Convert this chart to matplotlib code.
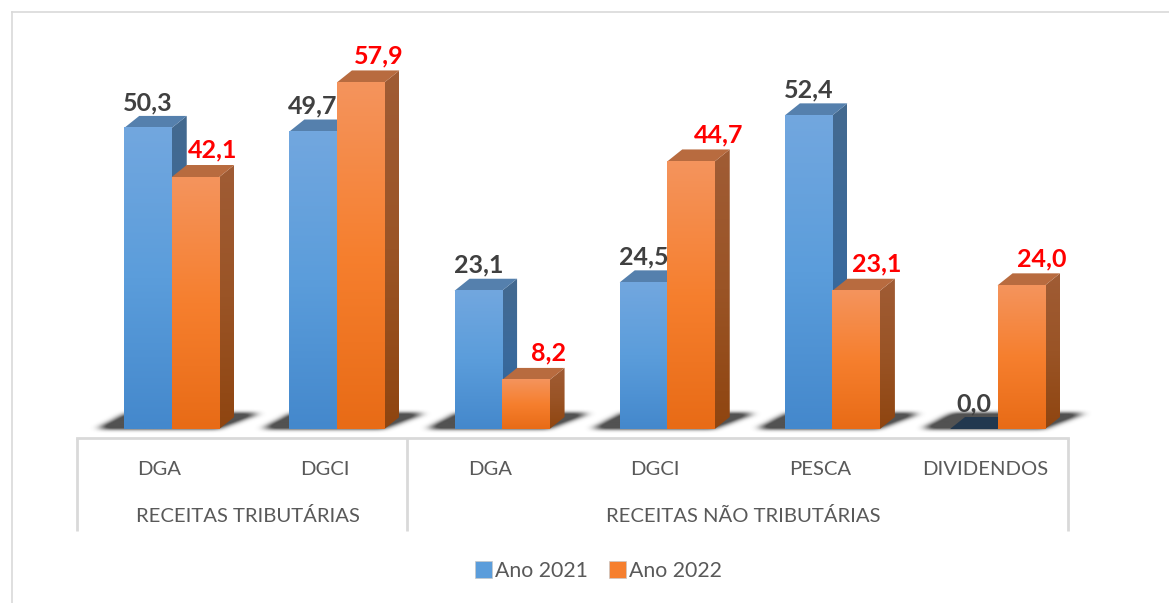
import numpy as np
import matplotlib
matplotlib.use('Agg')
import matplotlib.pyplot as plt
from matplotlib.colors import LinearSegmentedColormap
from matplotlib.lines import Line2D
from matplotlib.patches import Patch, Polygon

categories = ['DGA', 'DGCI', 'DGA', 'DGCI', 'PESCA', 'DIVIDENDOS']
groups = ['RECEITAS TRIBUTÁRIAS', 'RECEITAS NÃO TRIBUTÁRIAS']
group_spans = [(0, 2), (2, 6)]
ano_2021 = [50.3, 49.7, 23.1, 24.5, 52.4, 0.0]
ano_2022 = [42.1, 57.9, 8.2, 44.7, 23.1, 24.0]
labels_2021 = ['50,3', '49,7', '23,1', '24,5', '52,4', '0,0']
labels_2022 = ['42,1', '57,9', '8,2', '44,7', '23,1', '24,0']

W, H = 1169, 603
plt.rcParams['font.family'] = ['Lato', 'DejaVu Sans']

fig = plt.figure(figsize=(W / 100, H / 100), dpi=100)
ax = fig.add_axes([77 / W, (H - 437.5) / H, 991 / W, 407.5 / H])
ax.set_xlim(0, 6)
ax.set_ylim(-1.42, 66.66)

px_x = 6 / 991
px_y = (66.66 + 1.42) / 407.5
dx = 15 * px_x
dy = 12 * px_y
bar_w = 47.5 * px_x
start = 0.286

blue_front = LinearSegmentedColormap.from_list('bf', ['#72a7df', '#5b9ddb', '#4488cc'])
orange_front = LinearSegmentedColormap.from_list('of', ['#f4945d', '#f67f2e', '#e86b16'])
blue_side = LinearSegmentedColormap.from_list('bs', ['#44698f', '#3a6a9c', '#2c5f96'])
orange_side = LinearSegmentedColormap.from_list('os', ['#a05c35', '#9a5426', '#8f4510'])
grad = np.linspace(0, 1, 256).reshape(-1, 1)


def shadow_layer():
    # soft floor shadow, worked out in pixels then placed with the data scale
    xs = np.arange(-100, 1120)
    hs = np.arange(-14, 32)
    mask = np.zeros((len(hs), len(xs)))
    for i in range(6):
        left = (start + i) / px_x
        right = left + 95
        for r, h in enumerate(hs):
            if -1 <= h <= 14:
                t = h / 14
                x0 = left - 24 + 26 * t
                x1 = right + 2 + 36 * t
                mask[r, (xs >= x0) & (xs <= x1)] = 1
    kernel = np.ones(9) / 9
    for _ in range(3):
        mask = np.apply_along_axis(lambda v: np.convolve(v, kernel, 'same'), 1, mask)
    kernel = np.ones(4) / 4
    for _ in range(3):
        mask = np.apply_along_axis(lambda v: np.convolve(v, kernel, 'same'), 0, mask)
    rgba = np.zeros(mask.shape + (4,))
    rgba[..., :3] = 0.2
    rgba[..., 3] = np.clip(mask * 1.3, 0, 0.85)
    ax.imshow(rgba, origin='lower', aspect='auto', interpolation='bilinear', clip_on=False,
              extent=[xs[0] * px_x, xs[-1] * px_x, hs[0] * px_y, hs[-1] * px_y], zorder=1)


def bar3d(x, val, front, side, top_color, z):
    if val > 0:
        ax.imshow(grad, cmap=front, origin='upper', aspect='auto',
                  extent=[x, x + bar_w, 0, val], zorder=z + 0.2)
        side_poly = Polygon([(x + bar_w, 0), (x + bar_w + dx, dy), (x + bar_w + dx, val + dy), (x + bar_w, val)],
                            closed=True, fc='none', ec='none', zorder=z)
        ax.add_patch(side_poly)
        im = ax.imshow(grad, cmap=side, origin='upper', aspect='auto',
                       extent=[x + bar_w, x + bar_w + dx, 0, val + dy], zorder=z)
        im.set_clip_path(side_poly)
    ax.add_patch(Polygon([(x, val), (x + dx, val + dy), (x + bar_w + dx, val + dy), (x + bar_w, val)],
                         closed=True, fc=top_color, ec='none', zorder=z + 0.1))


shadow_layer()

# small sideways nudges of the red labels, as placed in the original
red_nudge = [17, 18, 23, 28, 21, 20]

for i in range(6):
    x = start + i
    bar3d(x, ano_2021[i], blue_front, blue_side, '#5580ad' if ano_2021[i] > 0 else '#22384f', 2 + i)
    bar3d(x + bar_w, ano_2022[i], orange_front, orange_side, '#b86b3f', 2.5 + i)
    ax.annotate(labels_2021[i], (x + bar_w / 2, ano_2021[i]), xytext=(0, 18.3), textcoords='offset points',
                ha='center', va='center', fontsize=18, fontweight='bold', color='#404040', zorder=20)
    ax.annotate(labels_2022[i], (x + 1.5 * bar_w, ano_2022[i]), xytext=(red_nudge[i] * 0.72, 19.2),
                textcoords='offset points', ha='center', va='center', fontsize=18, fontweight='bold',
                color='#ff0000', zorder=20)

ax.set_xlim(0, 6)
ax.set_ylim(-1.42, 66.66)
ax.set_yticks([])
for s in ['top', 'left', 'right']:
    ax.spines[s].set_visible(False)
ax.spines['bottom'].set_color('#d9d9d9')
ax.spines['bottom'].set_linewidth(2)

ax.set_xticks(np.arange(6) + 0.5)
ax.set_xticklabels(categories, fontsize=14.6, color='#595959')
ax.tick_params(axis='x', which='major', length=0, pad=17.2)
ax.set_xticks([0, 2, 6], minor=True)
ax.tick_params(axis='x', which='minor', length=67, width=2, color='#d9d9d9')

for name, (a, b) in zip(groups, group_spans):
    ax.annotate(name, ((a + b) / 2, 0), xycoords=ax.get_xaxis_transform(), xytext=(3.9, -56.7),
                textcoords='offset points', ha='center', va='center', fontsize=14.6, color='#595959')

handles = [Patch(fc='#5b9ddb', ec='#c8c8c8', lw=0.5, label='Ano 2021'),
           Patch(fc='#f67f2e', ec='#c8c8c8', lw=0.5, label='Ano 2022')]
fig.legend(handles=handles, loc='center', bbox_to_anchor=(598.5 / W, 1 - 571 / H), ncol=2, frameon=False,
           fontsize=15.3, labelcolor='#595959', handlelength=0.8, handleheight=0.8, handletextpad=0.15,
           columnspacing=1.0)

fig.add_artist(Line2D([12 / W, 12 / W], [0, 1 - 12 / H], color='#d9d9d9', lw=1.2))
fig.add_artist(Line2D([12 / W, 1], [1 - 12 / H, 1 - 12 / H], color='#d9d9d9', lw=1.2))

fig.savefig('out.png', dpi=100)
